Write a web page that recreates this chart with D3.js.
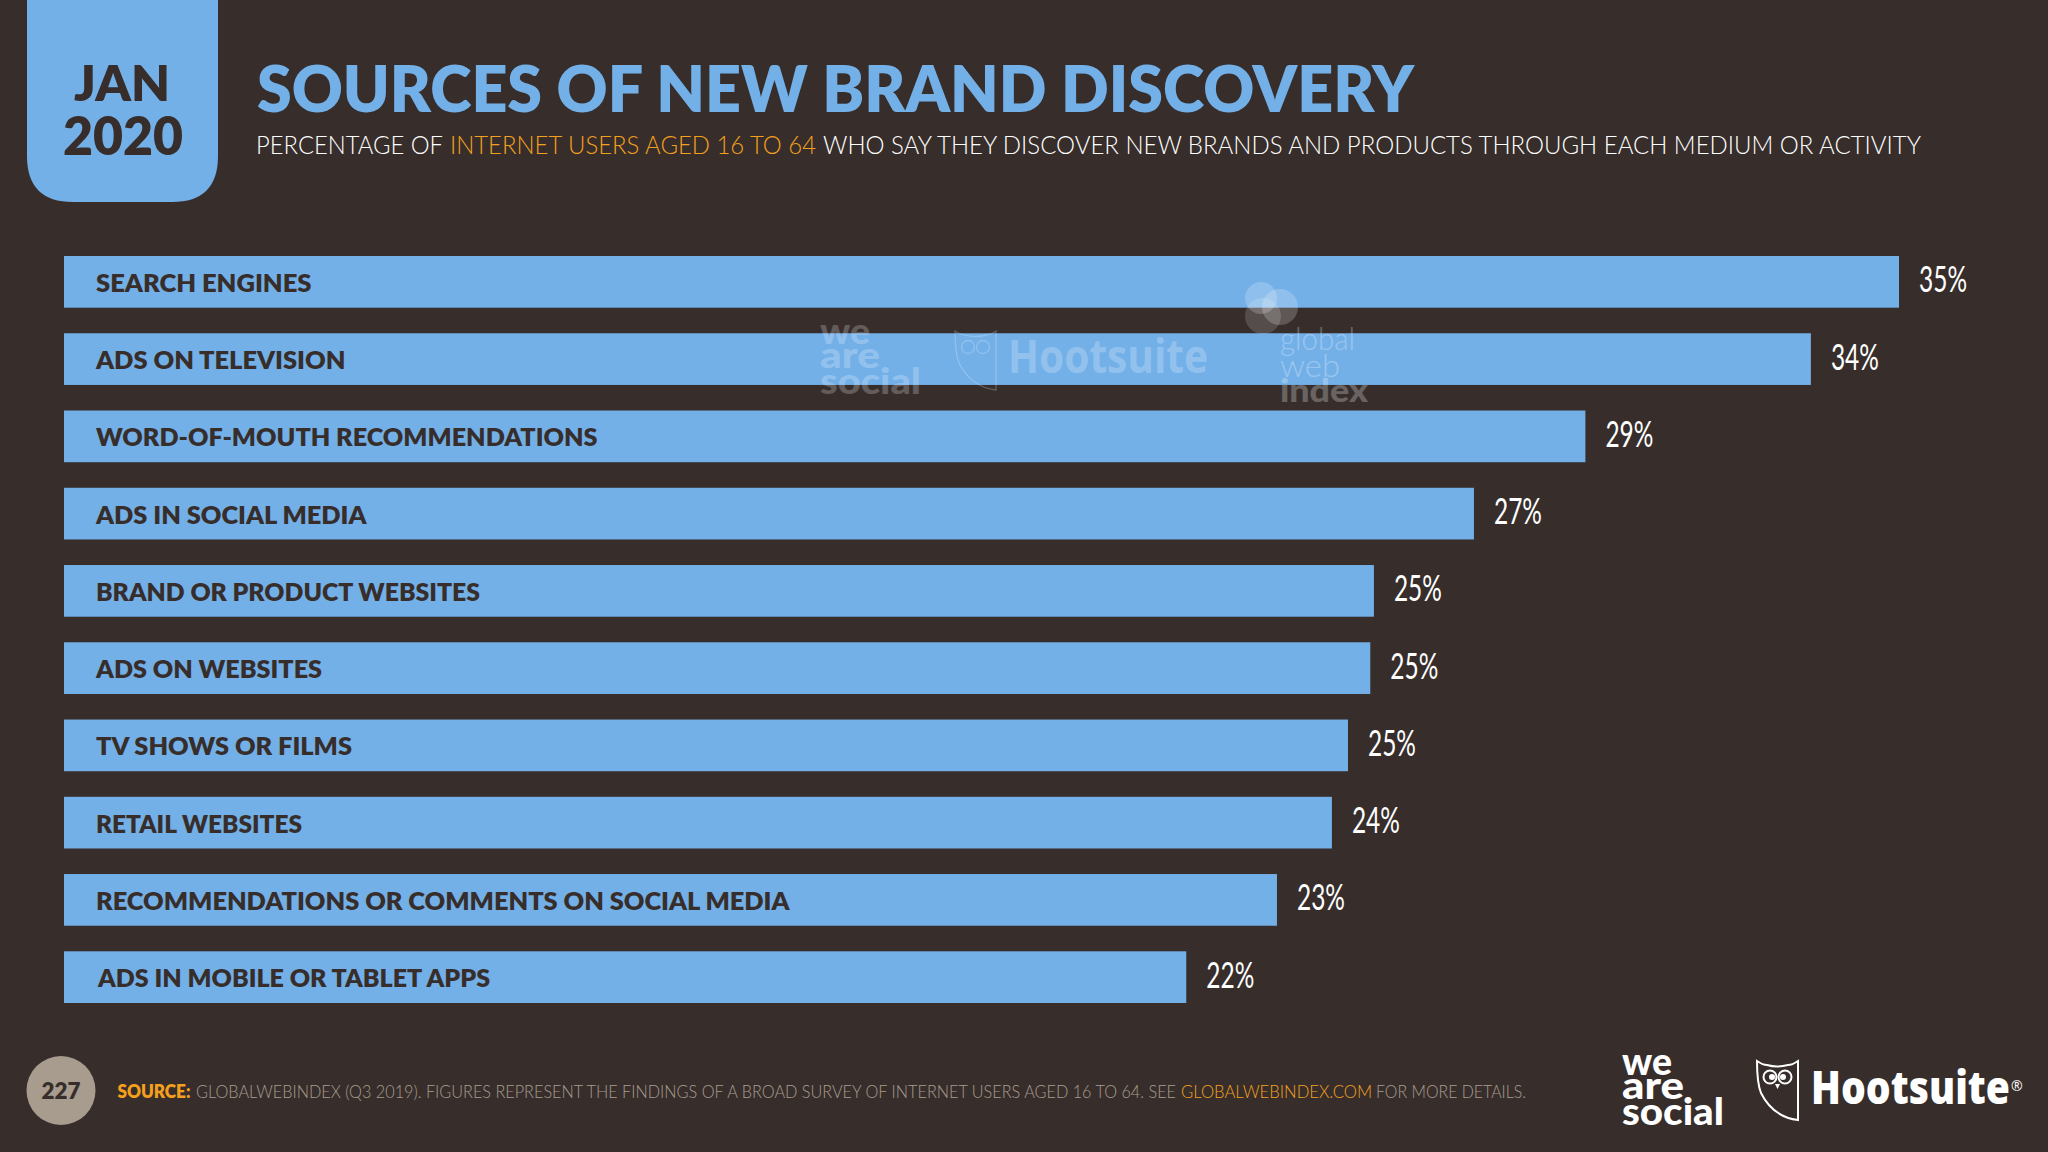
<!DOCTYPE html>
<html><head><meta charset="utf-8">
<script src="https://cdn.jsdelivr.net/npm/d3@7/dist/d3.min.js"></script>
<style>html,body{margin:0;padding:0;background:#372e2c}svg{display:block}</style></head>
<body><script>
const categories=["SEARCH ENGINES","ADS ON TELEVISION","WORD-OF-MOUTH RECOMMENDATIONS","ADS IN SOCIAL MEDIA","BRAND OR PRODUCT WEBSITES","ADS ON WEBSITES","TV SHOWS OR FILMS","RETAIL WEBSITES","RECOMMENDATIONS OR COMMENTS ON SOCIAL MEDIA","ADS IN MOBILE OR TABLET APPS"];
const values=[35.4,33.7,29.35,27.2,25.27,25.2,24.77,24.46,23.4,21.65];
const valueLabels=["35%","34%","29%","27%","25%","25%","25%","24%","23%","22%"];
const labelWidths=[215.5,249.5,501.5,270.5,384,226,256,206,693.5,392];
const labelStarts=[96,96,96,96,96,96,96,96,96,98];
const BG="#372e2c",BLUE="#73b0e8",ORANGE="#f4a01c",WHITE="#fff",GREY="#a89c8e";
const SANS="Lato";
const svg=d3.select("body").append("svg").attr("width",2048).attr("height",1152);
svg.append("rect").attr("width",2048).attr("height",1152).attr("fill",BG);
function T(g,s,x,y,size,weight,fill,len,font,anchor){
  const t=g.append("text").text(s).attr("x",x).attr("y",y).attr("font-size",size).attr("font-weight",weight).attr("fill",fill).attr("font-family",font||SANS).attr("xml:space","preserve");
  if(anchor)t.attr("text-anchor",anchor);
  if(len)t.attr("textLength",len).attr("lengthAdjust","spacingAndGlyphs");
  return t;
}
// header
svg.append("path").attr("d","M27,0H218V156Q218,202 172,202H73Q27,202 27,156Z").attr("fill",BLUE);
T(svg,"JAN",74,100.5,50,800,BG,96);
T(svg,"2020",63,155,52,800,BG,120);
T(svg,"SOURCES OF NEW BRAND DISCOVERY",257,111.5,64,800,BLUE,1157);
T(svg,"PERCENTAGE OF",256,154,25,300,WHITE,187);
T(svg,"INTERNET USERS AGED 16 TO 64",450,154,25,300,ORANGE,366);
T(svg,"WHO SAY THEY DISCOVER NEW BRANDS AND PRODUCTS THROUGH EACH MEDIUM OR ACTIVITY",823,154,25,300,WHITE,1098);
// chart
const x=d3.scaleLinear().domain([0,35.4]).range([64,1899]);
const y=d3.scaleBand().domain(categories).range([256,1003]).paddingInner(25.5/77.05).paddingOuter(0);
const rows=svg.selectAll("g.row").data(categories.map((c,i)=>({c,v:values[i],l:valueLabels[i],w:labelWidths[i],s:labelStarts[i]}))).join("g").attr("class","row");
rows.append("rect").attr("x",x(0)).attr("y",d=>y(d.c)).attr("width",d=>x(d.v)-x(0)).attr("height",y.bandwidth()).attr("fill",BLUE);
rows.append("text").text(d=>d.c).attr("x",d=>d.s).attr("y",d=>y(d.c)+y.bandwidth()/2+10).attr("font-family",SANS).attr("font-weight",800).attr("font-size",25).attr("fill",BG).attr("textLength",d=>d.w).attr("lengthAdjust","spacingAndGlyphs");
rows.append("text").text(d=>d.l).attr("x",d=>x(d.v)+20).attr("y",d=>y(d.c)+y.bandwidth()/2+10.5).attr("font-family",SANS).attr("font-size",36).attr("font-weight",400).attr("fill",WHITE).attr("textLength",48).attr("lengthAdjust","spacingAndGlyphs");
// logos
function owl(g,px,py,sw,op,detail){
  const o=g.append("g").attr("transform",`translate(${px},${py})`).attr("fill","none").attr("stroke",WHITE).attr("stroke-width",sw).attr("opacity",op);
  o.append("path").attr("d","M0,0Q6,4 10,4Q20,7 31,4Q35,4 41,0V59Q16,56 4,32Q0,22 0,0Z");
  o.append("circle").attr("cx",13).attr("cy",16).attr("r",6.5);
  o.append("circle").attr("cx",28).attr("cy",16).attr("r",6.5);
  if(detail){
    o.append("circle").attr("cx",15).attr("cy",16).attr("r",3).attr("fill",WHITE).attr("stroke","none");
    o.append("circle").attr("cx",26).attr("cy",16).attr("r",3).attr("fill",WHITE).attr("stroke","none");
    o.append("path").attr("d","M18,23L20.5,28L23,23Z").attr("fill",WHITE).attr("stroke","none");
  }
}
function wordLogo(g,px,b1,b2,b3,size,w1,w2,w3,op){
  const h=g.append("g").attr("opacity",op);
  T(h,"we",px,b1,size,900,WHITE,w1);T(h,"are",px,b2,size,900,WHITE,w2);T(h,"social",px,b3,size,900,WHITE,w3);
}
// watermark
const wm=svg.append("g");
wordLogo(wm,820,344,368,394,36,50,60,101,.22);
owl(wm,955,331,1.3,.22,false);
T(wm,"Hootsuite",1008,372.7,46,700,WHITE,200,"Open Sans").attr("opacity",.22);
[[1261,298,16,.2],[1280,307,18,.2],[1263,316,18,.15]].forEach(c=>wm.append("circle").attr("cx",c[0]).attr("cy",c[1]).attr("r",c[2]).attr("fill",WHITE).attr("opacity",c[3]));
T(wm,"global",1280,350,32,300,WHITE,75).attr("opacity",.28);
T(wm,"web",1280,377,32,300,WHITE,60).attr("opacity",.28);
T(wm,"index",1280,402,32,900,WHITE,88).attr("opacity",.25);
// footer
svg.append("circle").attr("cx",61).attr("cy",1090.5).attr("r",34.5).attr("fill",GREY);
T(svg,"227",61,1099,23,800,BG,39,null,"middle");
T(svg,"SOURCE:",117.5,1097.5,18,800,ORANGE,73);
T(svg,"GLOBALWEBINDEX (Q3 2019). FIGURES REPRESENT THE FINDINGS OF A BROAD SURVEY OF INTERNET USERS AGED 16 TO 64. SEE",196,1097.5,18,300,GREY,980);
T(svg,"GLOBALWEBINDEX.COM",1181,1097.5,18,300,ORANGE,191);
T(svg,"FOR MORE DETAILS.",1376,1097.5,18,300,GREY,150);
wordLogo(svg,1622,1075,1099,1124.7,38,50,62,102,1);
owl(svg,1757,1061,2,1,true);
T(svg,"Hootsuite",1811,1104,46,800,WHITE,199,"Open Sans");
T(svg,"®",2011,1091,14,400,WHITE,null,"Open Sans");
</script></body></html>
